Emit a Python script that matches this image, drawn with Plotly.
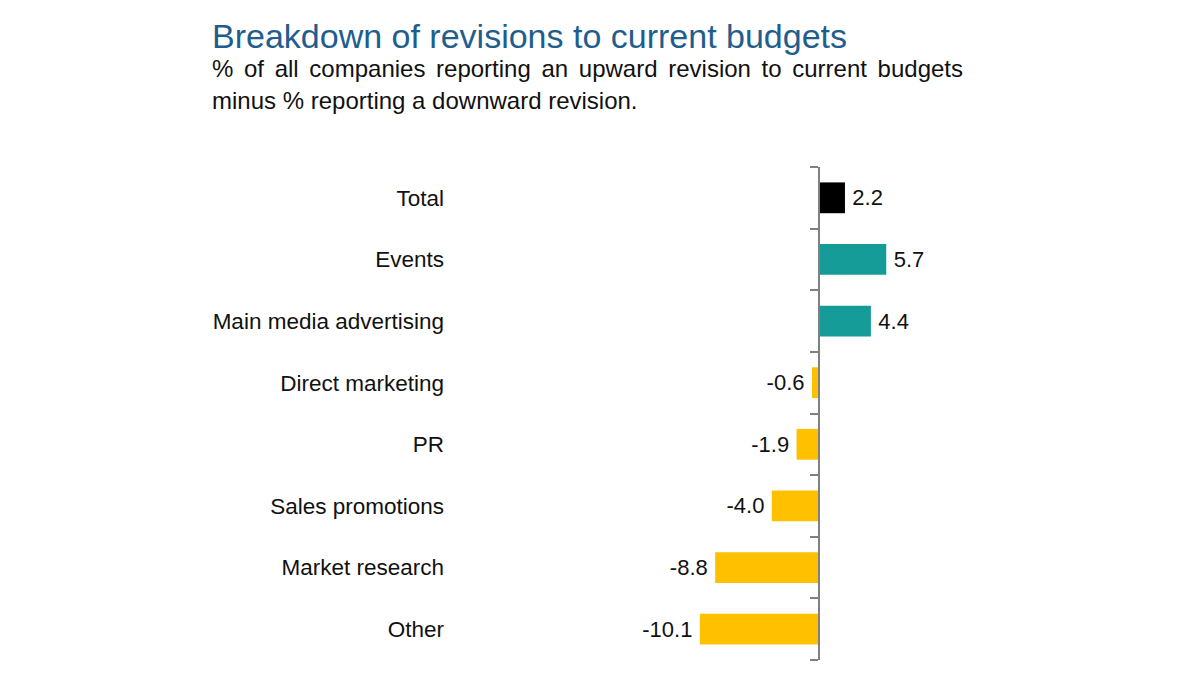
import plotly.graph_objects as go

categories = ["Total", "Events", "Main media advertising", "Direct marketing", "PR",
              "Sales promotions", "Market research", "Other"]
values = [2.2, 5.7, 4.4, -0.6, -1.9, -4.0, -8.8, -10.1]
bar_colors = ["#000000", "#169C98", "#169C98", "#FFC000", "#FFC000", "#FFC000", "#FFC000", "#FFC000"]
value_labels = [(f"\u2009{v:.1f}" if v >= 0 else f"{v:.1f}\u2009") for v in values]
boundaries = [i - 0.5 for i in range(len(categories) + 1)]

FONT = "Liberation Sans, Arial, sans-serif"

L, R, T, B = 455, 200, 167, 40
W, H = 1200, 700
px_per_unit = 11.8
zero_x = 819
plot_w = W - L - R
xmin = -(zero_x - L) / px_per_unit
xmax = (W - R - zero_x) / px_per_unit

fig = go.Figure()
fig.add_trace(go.Bar(
    y=categories, x=values, orientation="h",
    marker=dict(color=bar_colors, line=dict(width=0)),
    width=0.5,
    text=value_labels, textposition="outside",
    textfont=dict(family=FONT, size=22, color="#111111"),
    cliponaxis=False, showlegend=False, hoverinfo="skip",
))
fig.add_trace(go.Scatter(x=[0, 0], y=[boundaries[0], boundaries[-1]], yaxis="y2",
                         mode="lines", line=dict(width=0), showlegend=False, hoverinfo="skip"))

fig.update_layout(
    width=W, height=H,
    margin=dict(l=L, r=R, t=T, b=B, pad=0),
    plot_bgcolor="white", paper_bgcolor="white",
    xaxis=dict(range=[xmin, xmax], visible=False, fixedrange=True),
    yaxis=dict(categoryorder="array", categoryarray=categories,
               range=[len(categories) - 0.5, -0.5],
               showline=False, showgrid=False, ticks="", zeroline=False,
               tickfont=dict(family=FONT, size=22.5, color="#111111"),
               ticklabelstandoff=10),
    yaxis2=dict(overlaying="y", anchor="free", side="left",
                position=(zero_x - L) / plot_w,
                range=[boundaries[-1], boundaries[0]],
                tickmode="array", tickvals=boundaries, showticklabels=False,
                ticks="outside", ticklen=8, tickcolor="#808080", tickwidth=1.5,
                showline=True, linecolor="#808080", linewidth=1.5,
                showgrid=False, zeroline=False),
    annotations=[
        dict(text="Breakdown of revisions to current budgets", x=210, y=700 - 36,
             xref="paper", yref="paper", showarrow=False, xanchor="left", yanchor="middle",
             font=dict(family=FONT, size=34, color="#1F5E8C")),
        dict(text="% of all companies reporting an upward revision to current budgets".replace(" ", " \u2006"),
             x=210, y=700 - 68, xref="paper", yref="paper", showarrow=False,
             xanchor="left", yanchor="middle",
             font=dict(family=FONT, size=24, color="#111111")),
        dict(text="minus % reporting a downward revision.",
             x=210, y=700 - 100, xref="paper", yref="paper", showarrow=False,
             xanchor="left", yanchor="middle",
             font=dict(family=FONT, size=24, color="#111111")),
    ],
)

pw, ph = W - L - R, H - T - B
for a in fig.layout.annotations:
    a.x = (a.x - L) / pw
    a.y = (a.y - B) / ph

fig.write_html("out.html")
